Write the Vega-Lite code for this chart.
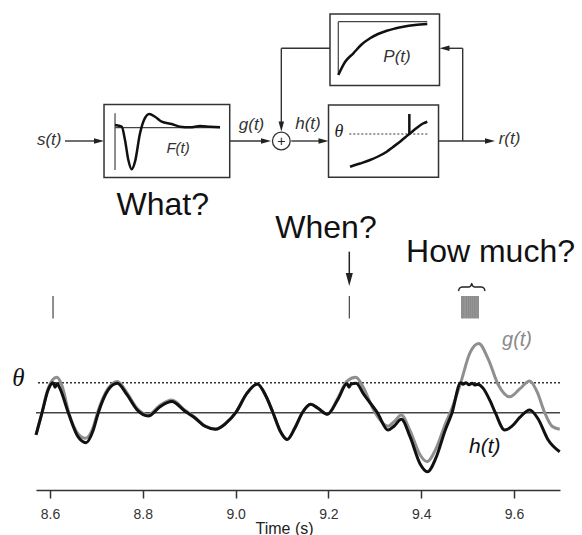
{
"$schema":"https://vega.github.io/schema/vega-lite/v6.json",
"width":524,"height":490,
"autosize":{"type":"none"},
"padding":{"left":36,"top":0,"right":22,"bottom":45},
"background":"white",
"config":{"view":{"stroke":null},"font":"Liberation Sans"},
"datasets":{
"sig":[
{"s":"h","t":8.5698,"v":-0.74},{"s":"h","t":8.5828,"v":0},{"s":"h","t":8.5957,"v":0.75},{"s":"h","t":8.6065,"v":1.0},{"s":"h","t":8.6108,"v":0.85},{"s":"h","t":8.6151,"v":0.97},{"s":"h","t":8.6216,"v":0.8},{"s":"h","t":8.6394,"v":0},{"s":"h","t":8.6603,"v":-0.8},{"s":"h","t":8.6776,"v":-1.0},{"s":"h","t":8.6927,"v":-0.6},{"s":"h","t":8.7041,"v":0},{"s":"h","t":8.725,"v":0.75},{"s":"h","t":8.745,"v":0.98},{"s":"h","t":8.7659,"v":0.6},{"s":"h","t":8.7875,"v":0.1},{"s":"h","t":8.8119,"v":-0.11},{"s":"h","t":8.8371,"v":0.2},{"s":"h","t":8.8623,"v":0.37},{"s":"h","t":8.891,"v":0.05},{"s":"h","t":8.9103,"v":-0.15},{"s":"h","t":8.9341,"v":-0.45},{"s":"h","t":8.9571,"v":-0.55},{"s":"h","t":8.9793,"v":-0.35},{"s":"h","t":9.0002,"v":0},{"s":"h","t":9.0246,"v":0.65},{"s":"h","t":9.0468,"v":0.96},{"s":"h","t":9.0655,"v":0.55},{"s":"h","t":9.0806,"v":0},{"s":"h","t":9.0957,"v":-0.6},{"s":"h","t":9.1114,"v":-0.89},{"s":"h","t":9.128,"v":-0.5},{"s":"h","t":9.1438,"v":0},{"s":"h","t":9.1619,"v":0.28},{"s":"h","t":9.1776,"v":0.15},{"s":"h","t":9.1976,"v":-0.05},{"s":"h","t":9.2207,"v":0.45},{"s":"h","t":9.2401,"v":0.97},{"s":"h","t":9.2444,"v":0.85},{"s":"h","t":9.2487,"v":0.95},{"s":"h","t":9.2595,"v":0.98},{"s":"h","t":9.2767,"v":0.6},{"s":"h","t":9.3054,"v":0},{"s":"h","t":9.3284,"v":-0.58},{"s":"h","t":9.3414,"v":-0.45},{"s":"h","t":9.3571,"v":-0.22},{"s":"h","t":9.3759,"v":-0.8},{"s":"h","t":9.3974,"v":-1.7},{"s":"h","t":9.4131,"v":-1.97},{"s":"h","t":9.4319,"v":-1.5},{"s":"h","t":9.4513,"v":-0.6},{"s":"h","t":9.4664,"v":0},{"s":"h","t":9.4851,"v":1.0},{"s":"h","t":9.4901,"v":0.95},{"s":"h","t":9.4966,"v":1.0},{"s":"h","t":9.503,"v":0.93},{"s":"h","t":9.5095,"v":0.98},{"s":"h","t":9.5159,"v":0.92},{"s":"h","t":9.5209,"v":0.95},{"s":"h","t":9.5332,"v":0.82},{"s":"h","t":9.5483,"v":0.4},{"s":"h","t":9.5597,"v":0},{"s":"h","t":9.58,"v":-0.58},{"s":"h","t":9.5957,"v":-0.45},{"s":"h","t":9.6129,"v":-0.15},{"s":"h","t":9.6338,"v":0.09},{"s":"h","t":9.6517,"v":-0.2},{"s":"h","t":9.6733,"v":-0.9},{"s":"h","t":9.6985,"v":-1.3},
{"s":"g","t":8.5698,"v":-0.74},{"s":"g","t":8.5828,"v":0},{"s":"g","t":8.5957,"v":0.8},{"s":"g","t":8.6144,"v":1.18},{"s":"g","t":8.6259,"v":0.9},{"s":"g","t":8.6405,"v":0},{"s":"g","t":8.6603,"v":-0.7},{"s":"g","t":8.6765,"v":-0.85},{"s":"g","t":8.6927,"v":-0.5},{"s":"g","t":8.7034,"v":0.05},{"s":"g","t":8.725,"v":0.8},{"s":"g","t":8.745,"v":1.04},{"s":"g","t":8.7659,"v":0.66},{"s":"g","t":8.7875,"v":0.15},{"s":"g","t":8.8119,"v":-0.07},{"s":"g","t":8.8371,"v":0.25},{"s":"g","t":8.8623,"v":0.42},{"s":"g","t":8.891,"v":0.08},{"s":"g","t":8.9103,"v":-0.13},{"s":"g","t":8.9341,"v":-0.44},{"s":"g","t":8.9571,"v":-0.54},{"s":"g","t":8.9793,"v":-0.35},{"s":"g","t":9.0002,"v":0},{"s":"g","t":9.0246,"v":0.65},{"s":"g","t":9.0468,"v":0.96},{"s":"g","t":9.0655,"v":0.55},{"s":"g","t":9.0806,"v":0},{"s":"g","t":9.0957,"v":-0.6},{"s":"g","t":9.1114,"v":-0.89},{"s":"g","t":9.128,"v":-0.5},{"s":"g","t":9.1438,"v":0},{"s":"g","t":9.1619,"v":0.28},{"s":"g","t":9.1776,"v":0.15},{"s":"g","t":9.1976,"v":-0.05},{"s":"g","t":9.2207,"v":0.5},{"s":"g","t":9.2401,"v":1.05},{"s":"g","t":9.2588,"v":1.18},{"s":"g","t":9.2767,"v":0.8},{"s":"g","t":9.294,"v":0.2},{"s":"g","t":9.3069,"v":-0.15},{"s":"g","t":9.3284,"v":-0.45},{"s":"g","t":9.3414,"v":-0.3},{"s":"g","t":9.3571,"v":-0.08},{"s":"g","t":9.3759,"v":-0.6},{"s":"g","t":9.3974,"v":-1.4},{"s":"g","t":9.4125,"v":-1.63},{"s":"g","t":9.4319,"v":-1.2},{"s":"g","t":9.4513,"v":-0.4},{"s":"g","t":9.4664,"v":0.15},{"s":"g","t":9.4851,"v":1.0},{"s":"g","t":9.5052,"v":2.0},{"s":"g","t":9.5239,"v":2.31},{"s":"g","t":9.544,"v":1.8},{"s":"g","t":9.5655,"v":0.95},{"s":"g","t":9.5907,"v":0.53},{"s":"g","t":9.6129,"v":0.8},{"s":"g","t":9.6338,"v":1.06},{"s":"g","t":9.6496,"v":0.7},{"s":"g","t":9.6662,"v":0},{"s":"g","t":9.6819,"v":-0.45},{"s":"g","t":9.6985,"v":-0.55}
],
"spikes":[{"t":8.6065},{"t":9.245},{"t":9.4879},{"t":9.4922},{"t":9.4966},{"t":9.5009},{"t":9.5052},{"t":9.5095},{"t":9.5138},{"t":9.5181},{"t":9.5224}],
"brace":[{"t":9.4804,"v":4.0567},{"t":9.4825,"v":4.1467},{"t":9.4879,"v":4.19},{"t":9.503,"v":4.19},{"t":9.5073,"v":4.24},{"t":9.5088,"v":4.3067},{"t":9.5103,"v":4.24},{"t":9.5147,"v":4.19},{"t":9.53,"v":4.19},{"t":9.5353,"v":4.1467},{"t":9.5375,"v":4.0567}],
"boxes":[{"t":8.7164,"t2":8.9873,"v":10.2733,"v2":7.84},{"t":9.2034,"t2":9.4394,"v":13.29,"v2":10.9067},{"t":9.2002,"t2":9.4373,"v":10.2567,"v2":7.8467}],
"wires":[
{"t":8.6323,"v":9.0567,"t2":8.697,"v2":9.0567},
{"t":8.9873,"v":9.0567,"t2":9.0569,"v2":9.0567},
{"t":9.12,"v":9.0567,"t2":9.1819,"v2":9.0567},
{"t":9.4373,"v":9.0567,"t2":9.5397,"v2":9.0567},
{"t":9.4894,"v":9.0567,"t2":9.4894,"v2":12.1467},
{"t":9.4894,"v":12.1467,"t2":9.4578,"v2":12.1467},
{"t":9.2034,"v":12.1467,"t2":9.0985,"v2":12.1467},
{"t":9.0985,"v":12.1467,"t2":9.0985,"v2":9.6567}
],
"thin":[
{"t":8.7401,"v":9.98,"t2":8.7401,"v2":8.09},
{"t":8.7401,"v":9.5,"t2":8.9664,"v2":9.5},
{"t":9.2213,"v":13.0333,"t2":9.2213,"v2":11.29},
{"t":9.2213,"v":13.0333,"t2":9.4131,"v2":13.0333}
],
"curves":[
{"c":"F","t":8.7401,"v":9.59},{"c":"F","t":8.7545,"v":9.5333},{"c":"F","t":8.7616,"v":9.09},{"c":"F","t":8.7688,"v":8.4233},{"c":"F","t":8.7761,"v":8.1133},{"c":"F","t":8.7832,"v":8.3667},{"c":"F","t":8.794,"v":9.3133},{"c":"F","t":8.8026,"v":9.7567},{"c":"F","t":8.814,"v":9.9567},{"c":"F","t":8.8263,"v":9.8667},{"c":"F","t":8.8407,"v":9.7},{"c":"F","t":8.8623,"v":9.6233},{"c":"F","t":8.8802,"v":9.5333},{"c":"F","t":8.9017,"v":9.5133},{"c":"F","t":8.9233,"v":9.5567},{"c":"F","t":8.9448,"v":9.5333},{"c":"F","t":8.9664,"v":9.5133},
{"c":"P","t":9.2213,"v":11.2567},{"c":"P","t":9.2358,"v":11.69},{"c":"P","t":9.2537,"v":11.98},{"c":"P","t":9.2703,"v":12.2567},{"c":"P","t":9.2897,"v":12.48},{"c":"P","t":9.3069,"v":12.6233},{"c":"P","t":9.3257,"v":12.7333},{"c":"P","t":9.3435,"v":12.8067},{"c":"P","t":9.3614,"v":12.8667},{"c":"P","t":9.3866,"v":12.9233},{"c":"P","t":9.4131,"v":12.9567},
{"c":"S","t":9.2466,"v":8.2},{"c":"S","t":9.2681,"v":8.3067},{"c":"S","t":9.2897,"v":8.4233},{"c":"S","t":9.3069,"v":8.54},{"c":"S","t":9.3257,"v":8.7},{"c":"S","t":9.3392,"v":8.8567},{"c":"S","t":9.3543,"v":9.0333},{"c":"S","t":9.3651,"v":9.1733},{"c":"S","t":9.3744,"v":9.29},{"c":"S","t":9.3845,"v":9.4233},{"c":"S","t":9.3937,"v":9.5333},{"c":"S","t":9.4039,"v":9.64},{"c":"S","t":9.4131,"v":9.7}
],
"labels":[
{"label":"s(t)","t":8.5983,"v":9.09},
{"label":"g(t)","t":9.0343,"v":9.59},
{"label":"h(t)","t":9.156,"v":9.6067},
{"label":"P(t)","t":9.3478,"v":11.8667},
{"label":"r(t)","t":9.5903,"v":9.1067}
]
},
"layer":[
 {"data":{"values":[{"level":0}]},"mark":{"type":"rule","color":"#444","strokeWidth":1.5},
  "encoding":{"y":{"field":"level","type":"quantitative","scale":{"domain":[-2.5767,13.7567],"nice":false,"zero":false},"axis":null}}},
 {"data":{"values":[{"level":1}]},"mark":{"type":"rule","color":"#333","strokeWidth":1.5,"strokeDash":[2,2]},
  "encoding":{"y":{"field":"level","type":"quantitative","axis":null}}},
 {"data":{"name":"sig"},"transform":[{"filter":"datum.s === 'g'"}],
  "mark":{"type":"line","color":"#8f8f8f","strokeWidth":3,"interpolate":"monotone"},
  "encoding":{
   "x":{"field":"t","type":"quantitative","scale":{"domain":[8.5698,9.6991],"nice":false,"zero":false},
        "axis":{"values":[8.6,8.8,9.0,9.2,9.4,9.6],"format":".1f","grid":false,"domain":true,"domainColor":"#333","domainWidth":1.6,
                "ticks":true,"tickSize":8,"tickColor":"#333","tickWidth":1.5,"labelFontSize":14,"labelColor":"#333","labelPadding":9,
                "labelFont":"Liberation Sans","title":"Time (s)","titleFont":"Liberation Sans","titleFontSize":16,"titleFontWeight":"normal",
                "titleColor":"#222","titleX":248,"titleY":43,"titleBaseline":"alphabetic"}},
   "y":{"field":"v","type":"quantitative","axis":null}}},
 {"data":{"name":"sig"},"transform":[{"filter":"datum.s === 'h'"}],
  "mark":{"type":"line","color":"#111","strokeWidth":3,"interpolate":"monotone"},
  "encoding":{"x":{"field":"t","type":"quantitative"},"y":{"field":"v","type":"quantitative"}}},
 {"data":{"name":"spikes"},"mark":{"type":"rule","color":"#222","strokeWidth":1},
  "encoding":{"x":{"field":"t","type":"quantitative"},"y":{"datum":3.14},"y2":{"datum":3.89}}},
 {"data":{"values":[{"t":9.245}]},"mark":{"type":"rule","color":"#222","strokeWidth":1.5},
  "encoding":{"x":{"field":"t","type":"quantitative"},"y":{"datum":5.367},"y2":{"datum":4.6}}},
 {"data":{"values":[{"t":9.245,"v":4.443}]},"mark":{"type":"point","shape":"M-0.55,-1L0.55,-1L0,1Z","size":169,"filled":true,"color":"#222","opacity":1},
  "encoding":{"x":{"field":"t","type":"quantitative"},"y":{"field":"v","type":"quantitative"}}},
 {"data":{"name":"brace"},"mark":{"type":"line","color":"#222","strokeWidth":1.4,"interpolate":"monotone"},
  "encoding":{"x":{"field":"t","type":"quantitative"},"y":{"field":"v","type":"quantitative"}}},
 {"data":{"values":[{"t":9.6065,"v":2.423,"label":"g(t)"}]},"mark":{"type":"text","fontStyle":"italic","fontSize":20,"color":"#8a8a8a","align":"center","baseline":"middle"},
  "encoding":{"x":{"field":"t","type":"quantitative"},"y":{"field":"v","type":"quantitative"},"text":{"field":"label"}}},
 {"data":{"values":[{"t":9.5369,"v":-1.133,"label":"h(t)"}]},"mark":{"type":"text","fontStyle":"italic","fontSize":21,"color":"#111","align":"center","baseline":"middle"},
  "encoding":{"x":{"field":"t","type":"quantitative"},"y":{"field":"v","type":"quantitative"},"text":{"field":"label"}}},
 {"data":{"values":[{"t":8.5317,"v":1.147,"label":"θ"}]},"mark":{"type":"text","font":"Liberation Serif","fontStyle":"italic","fontSize":25,"color":"#111","align":"center","baseline":"middle"},
  "encoding":{"x":{"field":"t","type":"quantitative"},"y":{"field":"v","type":"quantitative"},"text":{"field":"label"}}},
 {"data":{"values":[{"t":9.1948,"v":5.833,"label":"When?"},{"t":9.5493,"v":5.033,"label":"How much?"},{"t":8.8429,"v":6.59,"label":"What?"}]},"mark":{"type":"text","fontSize":32,"color":"#111","align":"center","baseline":"alphabetic"},
  "encoding":{"x":{"field":"t","type":"quantitative"},"y":{"field":"v","type":"quantitative"},"text":{"field":"label"}}},
 {"data":{"name":"boxes"},"mark":{"type":"rect","fill":"white","fillOpacity":0,"stroke":"#333","strokeWidth":1.5},
  "encoding":{"x":{"field":"t","type":"quantitative"},"x2":{"field":"t2"},"y":{"field":"v","type":"quantitative"},"y2":{"field":"v2"}}},
 {"data":{"name":"wires"},"mark":{"type":"rule","color":"#333","strokeWidth":1.4},
  "encoding":{"x":{"field":"t","type":"quantitative"},"x2":{"field":"t2"},"y":{"field":"v","type":"quantitative"},"y2":{"field":"v2"}}},
 {"data":{"name":"thin"},"mark":{"type":"rule","color":"#444","strokeWidth":1.2},
  "encoding":{"x":{"field":"t","type":"quantitative"},"x2":{"field":"t2"},"y":{"field":"v","type":"quantitative"},"y2":{"field":"v2"}}},
 {"data":{"values":[{"t":9.245,"v":9.29,"t2":9.4131,"v2":9.29}]},"mark":{"type":"rule","color":"#333","strokeWidth":1.2,"strokeDash":[2,2]},
  "encoding":{"x":{"field":"t","type":"quantitative"},"x2":{"field":"t2"},"y":{"field":"v","type":"quantitative"},"y2":{"field":"v2"}}},
 {"data":{"values":[{"t":9.3744,"v":9.9567,"t2":9.3744,"v2":9.29}]},"mark":{"type":"rule","color":"#111","strokeWidth":2.5},
  "encoding":{"x":{"field":"t","type":"quantitative"},"x2":{"field":"t2"},"y":{"field":"v","type":"quantitative"},"y2":{"field":"v2"}}},
 {"data":{"name":"curves"},"mark":{"type":"line","color":"#111","strokeWidth":2.5,"interpolate":"monotone"},
  "encoding":{"x":{"field":"t","type":"quantitative"},"y":{"field":"v","type":"quantitative"},"detail":{"field":"c"}}},
 {"data":{"values":[{"t":8.7056,"v":9.0567},{"t":9.0655,"v":9.0567},{"t":9.1894,"v":9.0567},{"t":9.5483,"v":9.0567}]},
  "mark":{"type":"point","shape":"M-1,-0.55L1,0L-1,0.55Z","size":100,"filled":true,"color":"#222","opacity":1},
  "encoding":{"x":{"field":"t","type":"quantitative"},"y":{"field":"v","type":"quantitative"}}},
 {"data":{"values":[{"t":9.0985,"v":9.54}]},
  "mark":{"type":"point","shape":"M-0.55,-1L0.55,-1L0,1Z","size":100,"filled":true,"color":"#222","opacity":1},
  "encoding":{"x":{"field":"t","type":"quantitative"},"y":{"field":"v","type":"quantitative"}}},
 {"data":{"values":[{"t":9.4502,"v":12.1467}]},
  "mark":{"type":"point","shape":"M1,-0.55L-1,0L1,0.55Z","size":100,"filled":true,"color":"#222","opacity":1},
  "encoding":{"x":{"field":"t","type":"quantitative"},"y":{"field":"v","type":"quantitative"}}},
 {"data":{"values":[{"t":9.0985,"v":9.0567}]},
  "mark":{"type":"point","shape":"circle","size":314,"filled":true,"fill":"white","stroke":"#333","strokeWidth":1.3,"opacity":1},
  "encoding":{"x":{"field":"t","type":"quantitative"},"y":{"field":"v","type":"quantitative"}}},
 {"data":{"values":[{"t":9.0985,"v":9.04,"label":"+"}]},"mark":{"type":"text","fontSize":14,"color":"#222","align":"center","baseline":"middle"},
  "encoding":{"x":{"field":"t","type":"quantitative"},"y":{"field":"v","type":"quantitative"},"text":{"field":"label"}}},
 {"data":{"name":"labels"},"mark":{"type":"text","fontStyle":"italic","fontSize":17,"color":"#333","align":"center","baseline":"middle"},
  "encoding":{"x":{"field":"t","type":"quantitative"},"y":{"field":"v","type":"quantitative"},"text":{"field":"label"}}},
 {"data":{"values":[{"t":8.8759,"v":8.8067,"label":"F(t)"}]},"mark":{"type":"text","fontStyle":"italic","fontSize":15,"color":"#333","align":"center","baseline":"middle"},
  "encoding":{"x":{"field":"t","type":"quantitative"},"y":{"field":"v","type":"quantitative"},"text":{"field":"label"}}},
 {"data":{"values":[{"t":9.2228,"v":9.3667,"label":"θ"}]},"mark":{"type":"text","font":"Liberation Serif","fontStyle":"italic","fontSize":18,"color":"#222","align":"center","baseline":"middle"},
  "encoding":{"x":{"field":"t","type":"quantitative"},"y":{"field":"v","type":"quantitative"},"text":{"field":"label"}}}
]
}
